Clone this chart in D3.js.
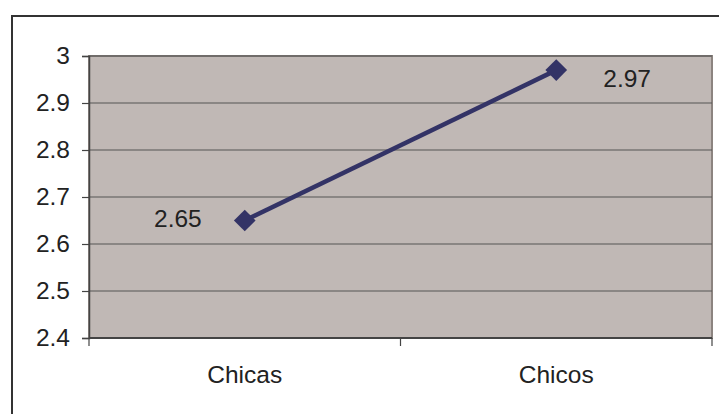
<!DOCTYPE html>
<html>
<head>
<meta charset="utf-8">
<script src="https://cdn.jsdelivr.net/npm/d3@7"></script>
<style>
  html, body { margin: 0; padding: 0; background: #fff; }
  svg { display: block; }
  text { font-family: "Liberation Sans", Arial, sans-serif; fill: #222; }
</style>
</head>
<body>
<svg id="chart" width="719" height="414"></svg>
<script>
// Chart data
const categories = ["Chicas", "Chicos"];
const values = [2.65, 2.97];
const valueLabels = ["2.65", "2.97"];
const yTicks = [2.4, 2.5, 2.6, 2.7, 2.8, 2.9, 3];

const W = 719, H = 414;
const plot = { left: 89, top: 56, right: 712, bottom: 338 };

const svg = d3.select("#chart");

// Outer frame (runs past the right and bottom of the view)
svg.append("rect")
  .attr("x", 12).attr("y", 16)
  .attr("width", W + 20).attr("height", H + 20)
  .attr("fill", "#fff")
  .attr("stroke", "#333").attr("stroke-width", 2);

const x = d3.scaleBand()
  .domain(categories)
  .range([plot.left, plot.right]);

const y = d3.scaleLinear()
  .domain([2.4, 3])
  .range([plot.bottom, plot.top]);

// Plot background
svg.append("rect")
  .attr("x", plot.left).attr("y", plot.top)
  .attr("width", plot.right - plot.left)
  .attr("height", plot.bottom - plot.top)
  .attr("fill", "#c0b8b5")
  .attr("stroke", "#8c8480").attr("stroke-width", 2);

// Horizontal gridlines
svg.append("g")
  .selectAll("line")
  .data(yTicks)
  .join("line")
  .attr("x1", plot.left).attr("x2", plot.right)
  .attr("y1", d => y(d)).attr("y2", d => y(d))
  .attr("stroke", "#555").attr("stroke-width", 1.2);

// Y axis
const yAxis = svg.append("g")
  .attr("transform", `translate(${plot.left},0)`)
  .call(d3.axisLeft(y).tickValues(yTicks).tickSize(7).tickPadding(12)
    .tickFormat(d3.format("~g")));
yAxis.select(".domain").attr("stroke", "#444").attr("stroke-width", 1.5);
yAxis.selectAll(".tick line").attr("stroke", "#444").attr("stroke-width", 1.2);
yAxis.selectAll("text")
  .style("font-size", "24.5px")
  .style("font-family", "'Liberation Sans', Arial, sans-serif")
  .attr("fill", "#222");

// X axis with ticks between categories
const xEdges = [plot.left, ...categories.slice(1).map(c => x(c)), plot.right];
const xAxis = svg.append("g");
xAxis.append("line")
  .attr("x1", plot.left).attr("x2", plot.right)
  .attr("y1", plot.bottom).attr("y2", plot.bottom)
  .attr("stroke", "#444").attr("stroke-width", 2);
xAxis.selectAll("line.tick")
  .data(xEdges)
  .join("line")
  .attr("class", "tick")
  .attr("x1", d => d).attr("x2", d => d)
  .attr("y1", plot.bottom).attr("y2", plot.bottom + 8)
  .attr("stroke", "#444").attr("stroke-width", 1.2);
xAxis.selectAll("text")
  .data(categories)
  .join("text")
  .attr("x", d => x(d) + x.bandwidth() / 2)
  .attr("y", 383)
  .attr("text-anchor", "middle")
  .style("font-size", "24.5px")
  .text(d => d);

// Series line
const pts = categories.map((c, i) => ({ c, v: values[i], label: valueLabels[i] }));
const cx = d => x(d.c) + x.bandwidth() / 2;

svg.append("path")
  .datum(pts)
  .attr("d", d3.line().x(cx).y(d => y(d.v)))
  .attr("fill", "none")
  .attr("stroke", "#333366")
  .attr("stroke-width", 4.5);

// Diamond markers
svg.append("g")
  .selectAll("path")
  .data(pts)
  .join("path")
  .attr("transform", d => `translate(${cx(d)},${y(d.v)})`)
  .attr("d", d3.symbol().type(d3.symbolDiamond2).size(300))
  .attr("fill", "#333366");

// Value labels
const labelOffsets = [{ dx: -43, dy: -2, anchor: "end" }, { dx: 47, dy: 8, anchor: "start" }];
svg.append("g")
  .selectAll("text")
  .data(pts)
  .join("text")
  .attr("x", (d, i) => cx(d) + labelOffsets[i].dx)
  .attr("y", (d, i) => y(d.v) + labelOffsets[i].dy)
  .attr("dy", "0.35em")
  .attr("text-anchor", (d, i) => labelOffsets[i].anchor)
  .style("font-size", "24.5px")
  .text(d => d.label);
</script>
</body>
</html>
